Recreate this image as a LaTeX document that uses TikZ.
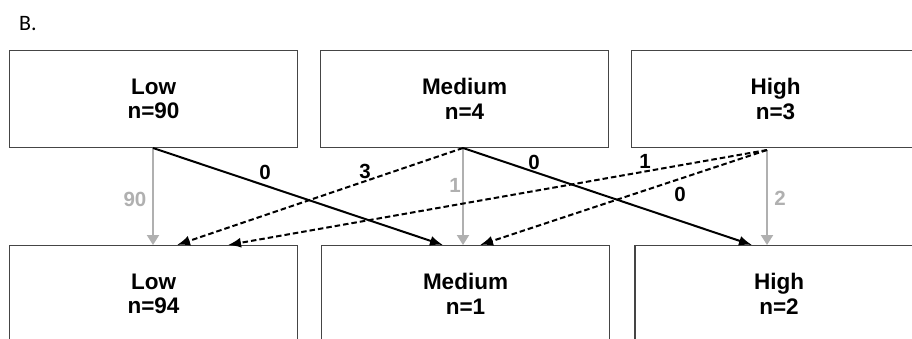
\documentclass[tikz,border=0pt]{standalone}
\usepackage{fontspec}
\setmainfont{Liberation Sans}
\newfontfamily\carlito{Carlito}
\usetikzlibrary{arrows.meta}
\definecolor{boxline}{HTML}{454545}
\definecolor{lightgr}{HTML}{B0B0B0}
\tikzset{
  catbox/.style={draw=boxline, line width=1.7pt, minimum width=288pt, minimum height=97pt,
    inner sep=0pt, align=center, font=\bfseries\fontsize{22.5}{24.5}\selectfont},
  solidarr/.style={draw=black, line width=2pt, -{Latex[length=13pt,width=10pt]}},
  dasharr/.style={draw=black, line width=2pt, dash pattern=on 5.5pt off 3pt, -{Latex[length=13pt,width=10pt]}},
  grayarr/.style={draw=lightgr, line width=2pt, -{Triangle[length=10pt,width=12pt]}},
  elab/.style={font=\bfseries\fontsize{20.5}{23}\selectfont, inner sep=0pt},
  glab/.style={elab, text=lightgr}
}
\begin{document}
\begin{tikzpicture}[x=1pt,y=-1pt]
\path[use as bounding box, clip] (0,0) rectangle (912,339);
\fill[white] (0,0) rectangle (912,339);
\node[font=\carlito\fontsize{22}{26}\selectfont, inner sep=0pt] (title) at (28,24) {B.};
% top boxes
\node[catbox] (tlow) at (153.5,99) {Low\\n=90};
\node[catbox] (tmed) at (464.5,99) {Medium\\n=4};
\node[catbox] (thigh) at (775.5,99) {High\\n=3};
% bottom boxes
\node[catbox] (blow) at (153.5,294) {Low\\n=94};
\node[catbox] (bmed) at (465.5,294) {Medium\\n=1};
\node[catbox] (bhigh) at (779,294) {High\\n=2};
% sources
\coordinate (s1) at (153,148);
\coordinate (s2) at (463,148);
\coordinate (s3) at (767,150);
% targets
\coordinate (lowA) at (153,245);
\coordinate (lowB) at (177,245);
\coordinate (lowC) at (228,245);
\coordinate (medA) at (443,245);
\coordinate (medB) at (463,245);
\coordinate (medC) at (480,245);
\coordinate (highA) at (752,245);
\coordinate (highB) at (767,245);
% gray arrows
\draw[grayarr] (s1) -- (lowA);
\draw[grayarr] (s2) -- (medB);
\draw[grayarr] (s3) -- (highB);
% solid arrows
\draw[solidarr] (s1) -- (medA);
\draw[solidarr] (s2) -- (highA);
% dashed arrows
\draw[dasharr] (s2) -- (lowB);
\draw[dasharr] (s3) -- (lowC);
\draw[dasharr] (s3) -- (medC);
% labels
\node[glab] (l90) at (135,199) {90};
\node[elab] (l0a) at (265,172) {0};
\node[elab] (l3) at (365,171) {3};
\node[glab] (l1g) at (455,185) {1};
\node[elab] (l0b) at (534,162) {0};
\node[elab] (l1) at (645,161) {1};
\node[elab] (l0c) at (680,194) {0};
\node[glab] (l2) at (780,198) {2};
\end{tikzpicture}
\end{document}
